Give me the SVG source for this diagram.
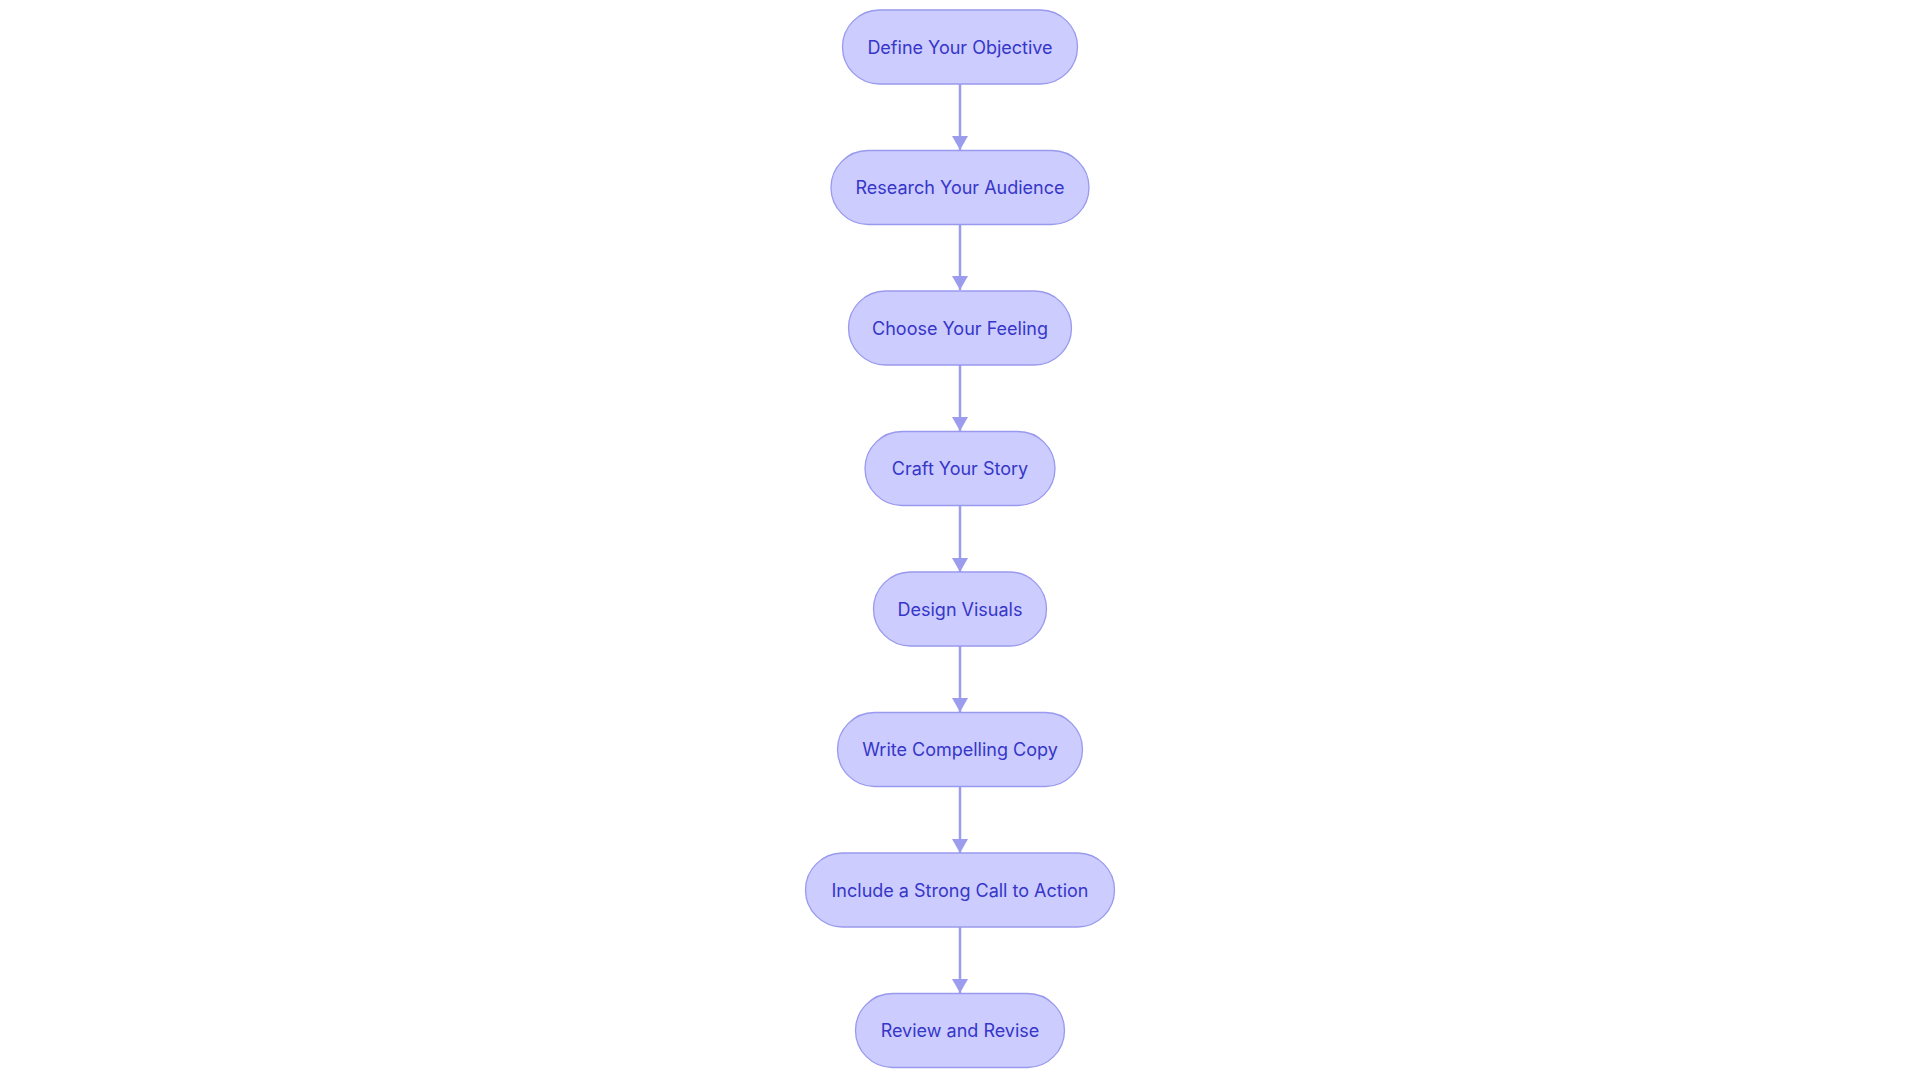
<svg xmlns="http://www.w3.org/2000/svg" width="1920" height="1083" viewBox="0 0 1920 1083">
<style>
.n rect{fill:#ccccff;stroke:#9999ee;stroke-width:1.3}
.n text{font-family:Inter,"Noto Sans",sans-serif;font-size:18px;fill:#3636c8;text-anchor:middle;dominant-baseline:central}
.e line{stroke:#9c9cee;stroke-width:2.5}
</style>
<defs><marker id="a" markerWidth="16" markerHeight="16" refX="8" refY="14" orient="auto-start-reverse" markerUnits="userSpaceOnUse" viewBox="0 0 16 16"><path d="M0,0 L16,0 L8,16 Z" fill="#9c9cee" transform="rotate(-90 8 8)"/></marker></defs>
<rect width="1920" height="1083" fill="#fff"/>
<g class="e">
<line x1="960" y1="84" x2="960" y2="150"/><path d="M952,136 L968,136 L960,150 Z" fill="#9c9cee"/>
<line x1="960" y1="224" x2="960" y2="290"/><path d="M952,276 L968,276 L960,290 Z" fill="#9c9cee"/>
<line x1="960" y1="364" x2="960" y2="431"/><path d="M952,417 L968,417 L960,431 Z" fill="#9c9cee"/>
<line x1="960" y1="505" x2="960" y2="572"/><path d="M952,558 L968,558 L960,572 Z" fill="#9c9cee"/>
<line x1="960" y1="646" x2="960" y2="712"/><path d="M952,698 L968,698 L960,712 Z" fill="#9c9cee"/>
<line x1="960" y1="786" x2="960" y2="853"/><path d="M952,839 L968,839 L960,853 Z" fill="#9c9cee"/>
<line x1="960" y1="927" x2="960" y2="993"/><path d="M952,979 L968,979 L960,993 Z" fill="#9c9cee"/>
</g>
<g id="n1" class="n"><rect x="842.5" y="10" width="235" height="74" rx="37"/><text x="960" y="47">Define Your Objective</text></g>
<g id="n2" class="n"><rect x="831" y="150.5" width="258" height="74" rx="37"/><text x="960" y="187.5">Research Your Audience</text></g>
<g id="n3" class="n"><rect x="848.5" y="291" width="223" height="74" rx="37"/><text x="960" y="328">Choose Your Feeling</text></g>
<g id="n4" class="n"><rect x="865" y="431.5" width="190" height="74" rx="37"/><text x="960" y="468.5">Craft Your Story</text></g>
<g id="n5" class="n"><rect x="873.5" y="572" width="173" height="74" rx="37"/><text x="960" y="609">Design Visuals</text></g>
<g id="n6" class="n"><rect x="837.5" y="712.5" width="245" height="74" rx="37"/><text x="960" y="749.5">Write Compelling Copy</text></g>
<g id="n7" class="n"><rect x="805.5" y="853" width="309" height="74" rx="37"/><text x="960" y="890">Include a Strong Call to Action</text></g>
<g id="n8" class="n"><rect x="855.5" y="993.5" width="209" height="74" rx="37"/><text x="960" y="1030.5">Review and Revise</text></g>
</svg>
